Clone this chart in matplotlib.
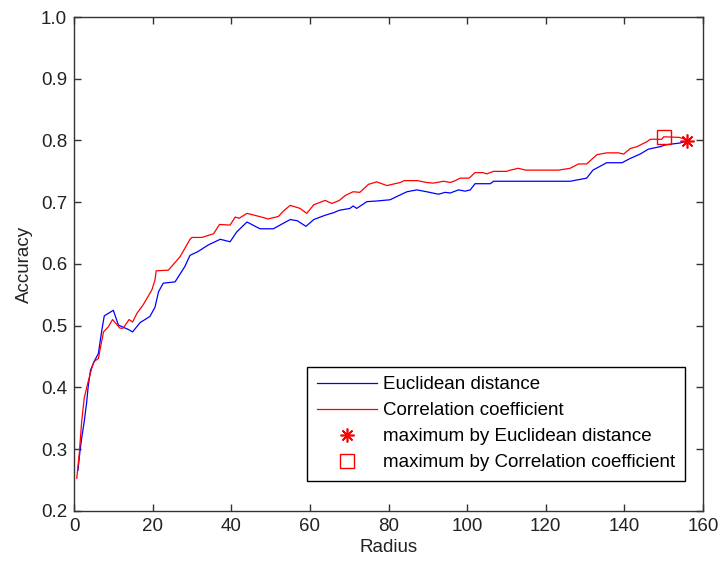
import matplotlib.pyplot as plt

# accuracy versus neighbourhood radius for the two similarity measures
radius_euc = [1, 1.5, 2, 2.6, 3.2, 3.6, 4.2, 5.1, 6.2, 7, 7.7, 10, 11.3, 13.8, 14.9,
              16.8, 19.3, 20.6, 21.5, 22.7, 25.7, 28.2, 29.5, 31.5, 34.2, 37.2,
              39.7, 41.4, 44, 47.3, 50.7, 52.4, 55, 56.8, 59, 61, 63.9, 66, 67.5,
              70.2, 71, 71.9, 74.5, 77, 80.4, 83, 84.7, 87.2, 89.7, 92.7, 94.4,
              95.7, 97.8, 99.5, 100.8, 102, 105.9, 106.7, 126.2, 130.4, 132, 135.5,
              139.4, 141.5, 144, 146.1, 149.1, 150.5, 154.2, 156]
acc_euc = [0.266, 0.296, 0.32, 0.345, 0.375, 0.401, 0.428, 0.442, 0.455, 0.49, 0.516,
           0.525, 0.501, 0.494, 0.49, 0.505, 0.515, 0.53, 0.555, 0.569, 0.571, 0.596,
           0.614, 0.62, 0.631, 0.64, 0.636, 0.652, 0.668, 0.657, 0.657, 0.663, 0.672,
           0.67, 0.661, 0.672, 0.679, 0.683, 0.687, 0.69, 0.694, 0.69, 0.701, 0.702,
           0.704, 0.712, 0.717, 0.72, 0.717, 0.713, 0.716, 0.715, 0.72, 0.718, 0.72,
           0.73, 0.73, 0.734, 0.734, 0.739, 0.752, 0.764, 0.764, 0.771, 0.778, 0.786,
           0.79, 0.793, 0.796, 0.799]

radius_cor = [0.7, 1.35, 1.95, 2.6, 3.5, 4.5, 5.1, 6.2, 7.5, 8.7, 9.8, 11.7, 12.5, 14,
              14.9, 16, 17.6, 19.8, 20.6, 20.9, 24, 27, 29.5, 30, 32.5, 35.5, 37,
              39.7, 41, 42, 44, 46.5, 49.4, 52, 53.3, 55, 57.5, 59.2, 61, 63.9, 65.6,
              67.5, 69, 71, 72.7, 74.9, 77, 79.6, 83, 84, 87.4, 89.7, 91.4, 94, 95.7,
              97, 98.2, 100.5, 102, 104, 105, 106.7, 110, 111, 113, 114.9, 123.2,
              126.2, 128.3, 130.4, 133, 135.5, 138.5, 139.8, 141.5, 143.2, 145.7,
              146.6, 149.5, 150, 154, 156]
acc_cor = [0.253, 0.294, 0.345, 0.383, 0.407, 0.431, 0.442, 0.447, 0.49, 0.498, 0.51,
           0.496, 0.496, 0.51, 0.506, 0.52, 0.534, 0.558, 0.574, 0.589, 0.59, 0.612,
           0.64, 0.643, 0.643, 0.649, 0.664, 0.663, 0.676, 0.674, 0.682, 0.678, 0.673,
           0.677, 0.686, 0.695, 0.69, 0.682, 0.696, 0.703, 0.698, 0.703, 0.711, 0.717,
           0.716, 0.729, 0.733, 0.727, 0.732, 0.735, 0.735, 0.732, 0.731, 0.734, 0.732,
           0.735, 0.739, 0.739, 0.748, 0.748, 0.746, 0.75, 0.75, 0.752, 0.755, 0.752,
           0.752, 0.755, 0.762, 0.762, 0.777, 0.78, 0.78, 0.778, 0.787, 0.79, 0.798,
           0.802, 0.802, 0.806, 0.805, 0.801]

best_euc = (156, 0.799)
best_cor = (150, 0.806)

plt.rcParams['font.family'] = ['Liberation Sans', 'DejaVu Sans']
plt.rcParams['font.size'] = 13.5

fig = plt.figure(figsize=(7.2, 5.63), dpi=100)
ax = fig.add_axes([0.1028, 0.0924, 0.8736, 0.8774])

ax.plot(radius_euc, acc_euc, color='#0000ff', lw=0.9, label='Euclidean distance')
ax.plot(radius_cor, acc_cor, color='#ff0000', lw=0.9, label='Correlation coefficient')
# asterisk marker (8 spokes) for the Euclidean maximum
ax.plot(*best_euc, linestyle='none', marker=(8, 2, 0), color='#ff0000', ms=10,
        mew=1.2, label='maximum by Euclidean distance')
ax.plot(*best_cor, linestyle='none', marker='s', mfc='none', mec='#ff0000', ms=10,
        mew=1.0, label='maximum by Correlation coefficient')

ax.set_xlim(0, 160)
ax.set_ylim(0.2, 1.0)
ax.set_xticks(range(0, 161, 20))
ax.set_yticks([0.2, 0.3, 0.4, 0.5, 0.6, 0.7, 0.8, 0.9, 1.0])
ax.set_yticklabels(['0.2', '0.3', '0.4', '0.5', '0.6', '0.7', '0.8', '0.9', '1.0'])
ax.tick_params(direction='in', top=True, right=True, length=5, width=1,
               colors='#333333', labelcolor='#222222', pad=5)
for sp in ax.spines.values():
    sp.set_color('#333333')
    sp.set_linewidth(1)

ax.set_xlabel('Radius', color='#222222', labelpad=3)
ax.set_ylabel('Accuracy', color='#222222', labelpad=6)

leg = ax.legend(loc='lower right', bbox_to_anchor=(0.971, 0.061), borderaxespad=0,
                fancybox=False, framealpha=1, edgecolor='black', handlelength=3.2,
                handletextpad=0.35, labelspacing=0.48, borderpad=0.5)
leg.get_frame().set_linewidth(1)

fig.savefig('out.png', dpi=100)
